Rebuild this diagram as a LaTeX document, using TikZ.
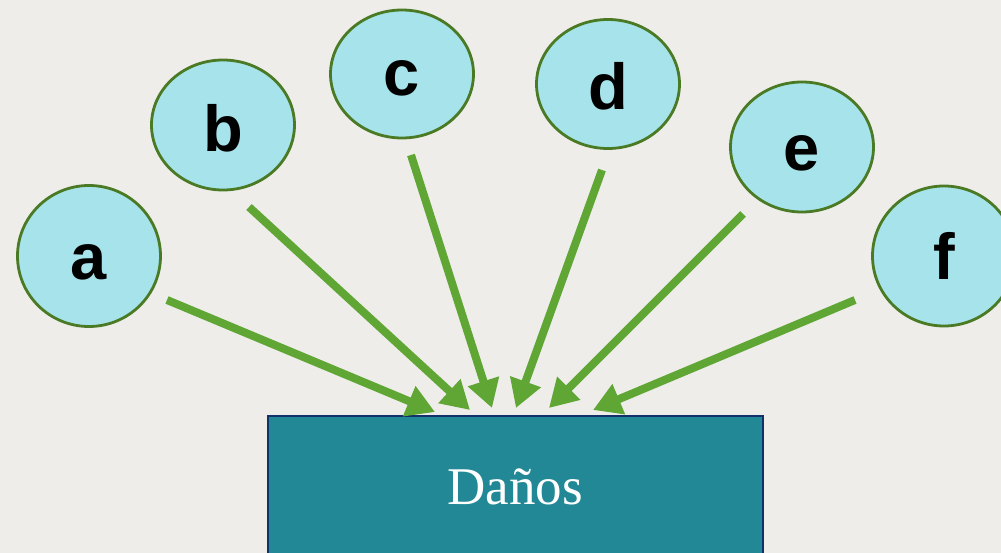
\documentclass[tikz,border=0pt]{standalone}
\usepackage{fontspec}
\setmainfont{Liberation Serif}
\newfontfamily\lettfont{Liberation Sans}
\usetikzlibrary{shapes.geometric,arrows.meta}
\definecolor{bgc}{HTML}{EEEDEA}
\definecolor{circfill}{HTML}{A7E3EA}
\definecolor{circline}{HTML}{4A7A24}
\definecolor{arrowc}{HTML}{5FA634}
\definecolor{boxfill}{HTML}{228896}
\definecolor{boxline}{HTML}{12306A}
\tikzset{
  letter/.style={ellipse, draw=circline, line width=2.8pt, fill=circfill, inner sep=0pt,
    minimum width=143pt},
  lettxt/.style={font=\lettfont\bfseries\fontsize{65}{65}\selectfont, inner sep=0pt, text=black},
  conn/.style={draw=arrowc, line width=8pt, -{Triangle[length=28pt,width=31pt]}},
  dbox/.style={draw=boxline, line width=2pt, fill=boxfill, inner sep=0pt}
}
\begin{document}
\begin{tikzpicture}[x=1pt,y=-1pt]
\useasboundingbox (0,0) rectangle (1001,553);
\clip (0,0) rectangle (1001,553);
\fill[bgc] (0,0) rectangle (1001,553);
% box
\node[dbox, minimum width=495pt, minimum height=150pt, anchor=north west] (box) at (267,415) {};
\node[text=white, font=\fontsize{53}{53}\selectfont] (lbl) at (515,487) {Daños};
% circles
\node[letter, minimum height=141pt] (a) at (89,256) {};
\node[letter, minimum height=130pt] (b) at (223,125) {};
\node[letter, minimum height=128pt] (c) at (402,74) {};
\node[letter, minimum height=129pt] (d) at (608,84) {};
\node[letter, minimum height=130pt] (e) at (802,147) {};
\node[letter, minimum height=140pt] (f) at (944,256) {};
\node[lettxt] (ta) at (89,262) {a};
\node[lettxt] (tb) at (223,128) {b};
\node[lettxt] (tc) at (402,78) {c};
\node[lettxt] (td) at (608,86) {d};
\node[lettxt] (te) at (802,153) {e};
\node[lettxt] (tf) at (944,256) {f};
% connector ends
\coordinate (sa) at (167,300); \coordinate (ea) at (435,412);
\coordinate (sb) at (249,207); \coordinate (eb) at (470,410);
\coordinate (sc) at (411,155); \coordinate (ec) at (492,408);
\coordinate (sd) at (602,170); \coordinate (ed) at (516,408);
\coordinate (se) at (743,214); \coordinate (ee) at (549,408);
\coordinate (sf) at (855,300); \coordinate (ef) at (593,410);
\draw[conn] (sa) -- (ea);
\draw[conn] (sb) -- (eb);
\draw[conn] (sc) -- (ec);
\draw[conn] (sd) -- (ed);
\draw[conn] (se) -- (ee);
\draw[conn] (sf) -- (ef);
\end{tikzpicture}
\end{document}
